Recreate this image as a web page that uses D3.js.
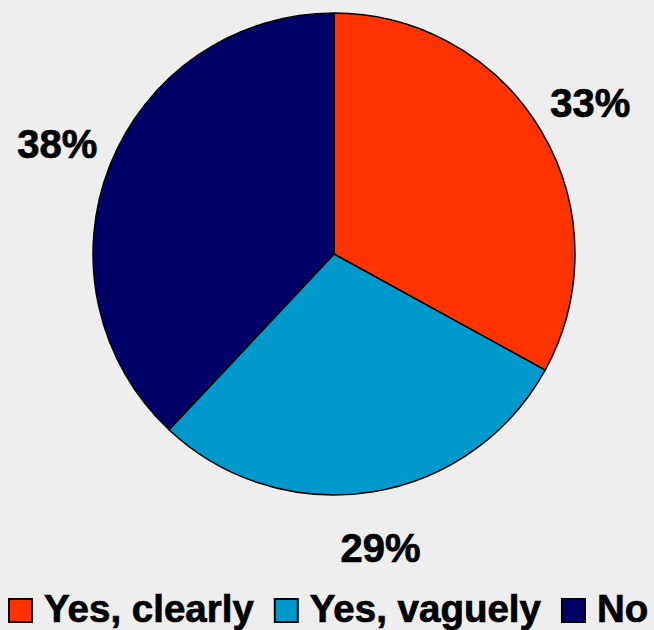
<!DOCTYPE html>
<html><head><meta charset="utf-8">
<script src="https://cdn.jsdelivr.net/npm/d3@7"></script>
<style>html,body{margin:0;padding:0;background:#eeeeee;}svg{display:block;}</style>
</head><body>
<svg id="c" width="654" height="630"></svg>
<script>
const categories = ["Yes, clearly", "Yes, vaguely", "No"];
const values = [33, 29, 38];
const labels = ["33%", "29%", "38%"];
const colors = ["#ff3300", "#0099cc", "#000066"];

const svg = d3.select("#c");
svg.append("rect").attr("width",654).attr("height",630).attr("fill","#eeeeee");
const cx = 334, cy = 254, r = 241;
const g = svg.append("g").attr("transform", `translate(${cx},${cy})`);
const pie = d3.pie().sort(null).value(d => d)(values);
const arc = d3.arc().innerRadius(0).outerRadius(r);
g.selectAll("path").data(pie).enter().append("path")
  .attr("d", arc).attr("fill", (d,i) => colors[i])
  .attr("stroke", "#000").attr("stroke-width", 1.5).attr("stroke-linejoin","round");

const lr = r * 1.235;
const labelArc = d3.arc().innerRadius(lr).outerRadius(lr);
const font = "'Liberation Sans', Arial, sans-serif";
g.selectAll("text.lbl").data(pie).enter().append("text")
  .attr("class","lbl")
  .attr("x", d => labelArc.centroid(d)[0])
  .attr("y", d => labelArc.centroid(d)[1])
  .attr("text-anchor","middle").attr("dominant-baseline","central")
  .attr("font-family", font).attr("font-weight","bold").attr("font-size", 40)
  .attr("fill","#000").attr("stroke","#000").attr("stroke-width",0.7)
  .text((d,i) => labels[i]);

// legend
const lg = svg.append("g");
const fs = 38.5;
let x = 9;
const ly = 599;
categories.forEach((c,i) => {
  lg.append("rect").attr("x", x).attr("y", ly).attr("width", 23).attr("height", 23)
    .attr("fill", colors[i]).attr("stroke","#000").attr("stroke-width",2);
  const t = lg.append("text").attr("x", x+35).attr("y", ly+23)
    .attr("font-family", font).attr("font-weight","bold").attr("font-size", fs)
    .attr("fill","#000").attr("stroke","#000").attr("stroke-width",0.7).text(c);
  const w = t.node().getComputedTextLength();
  x = x + 35 + w + 21;
});
</script>
</body></html>
